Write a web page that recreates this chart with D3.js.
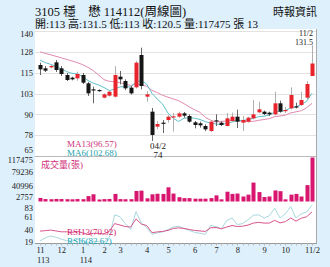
<!DOCTYPE html>
<html>
<head>
<meta charset="utf-8">
<script src="https://cdn.jsdelivr.net/npm/d3@7"></script>
<style>
html, body { margin: 0; padding: 0; background: #def0fb; }
svg { display: block; }
text { font-family: "Liberation Serif", "Noto Sans CJK TC", serif; }
</style>
</head>
<body>
<svg id="chart" width="330" height="267"></svg>
<script>
// weekly candles, 113/11 .. 114/11/2
const opens  = [119.6,117.6,118.2,121.2,117.6,113.6,112.0,111.6,113.6,108.6,105.0,104.6,100.0,101.2,100.6,112.6,110.0,106.0,106.2,125.6,100.6,91.6,82.6,85.0,86.6,88.4,88.6,90.6,89.0,85.2,84.6,83.0,80.0,86.4,85.0,83.0,86.0,88.6,85.0,85.6,87.6,91.2,91.6,91.0,90.0,96.6,92.4,93.6,94.8,95.6,100.0,113.0];
const closes = [117.0,116.2,119.0,116.6,114.2,110.6,111.0,114.2,109.0,102.6,104.6,104.0,102.0,103.6,113.6,111.0,105.6,102.6,121.0,107.0,102.0,77.6,84.2,84.6,88.6,88.8,90.6,89.2,85.6,83.6,83.4,81.0,85.6,86.1,83.6,87.6,88.6,85.6,86.6,88.0,90.0,93.0,90.2,90.0,96.6,91.6,92.6,101.6,94.6,98.6,108.2,120.5];
const highs  = [121.0,119.0,119.6,122.6,119.0,114.8,112.6,115.6,114.8,109.4,106.6,105.0,102.6,104.0,119.0,116.0,111.0,107.0,122.0,130.0,104.0,93.8,86.0,86.6,89.6,90.8,91.6,91.4,90.0,86.0,85.6,84.0,86.0,90.0,85.8,90.8,91.0,92.8,89.0,88.5,98.6,97.6,92.2,91.6,103.6,98.2,94.4,106.2,97.0,103.6,110.0,131.5];
const lows   = [113.6,115.4,117.6,115.4,113.0,110.0,110.4,110.2,108.2,101.0,96.6,103.6,99.6,100.6,100.0,108.0,104.5,101.8,105.5,105.0,97.6,74.0,81.0,78.8,85.0,79.6,88.0,88.0,85.0,81.6,82.0,80.0,79.4,83.0,83.0,82.8,85.6,81.8,80.0,85.0,87.0,90.6,89.6,89.0,89.4,91.0,90.8,93.0,93.6,95.0,99.0,113.0];

const ma6  = [122.5,121,120,118.8,117.3,115.6,114.6,114.3,112.6,110.3,108.7,107.6,106.1,104.3,105.1,106.5,106.6,106.4,109.6,110.1,108.2,102.6,99.1,96.1,90.7,87.6,85.7,87.7,87.9,87.7,86.9,85.6,84.7,84.2,83.9,84.6,85.4,86.2,86.4,86.7,87.7,88.6,88.9,89.6,91.3,91.9,92.3,93.8,94.5,95.9,97.9,102.68];
const ma13 = [127.5,126.6,125.7,124.8,123.9,123,122,121,119.8,118.2,116.2,113.6,110.8,109.8,109.6,109.0,108.2,107.3,108.1,107.8,106.8,104.4,103.0,101.4,100.3,99.2,98.2,96.4,94.4,92.7,91.2,88.2,86.5,85.3,85.8,86.0,86.3,86.1,85.9,85.7,85.8,86.4,86.9,87.4,88.6,89.0,89.5,90.9,91.5,92.2,94.0,96.57];

const volumes = [7000,4000,3500,4200,4000,3600,3300,4000,3600,12000,17000,2757,3800,4200,18000,3800,3500,3600,26000,27000,6000,17000,18500,18000,36000,19000,9000,6500,6500,5000,5000,5000,6500,14000,3200,24000,18000,19000,11000,16000,49000,23000,9500,11000,27500,25500,3200,16000,18000,11000,42000,117475];

const rsi6  = [20,25.5,28.6,26.4,23,20.4,19.5,23,18.7,16,19.5,18.7,17.8,26.4,65.8,62.4,50.4,40.1,71.5,51.6,43.5,31.5,34.1,35.8,40.1,44.4,45.8,41.8,38.4,35,33.3,31.5,47,45.3,41.3,55.6,60.2,48.7,50.4,57.3,65,65.8,60.2,64.1,77.3,60.2,67.6,80.1,60.2,67.6,71,82.62];
const rsi13 = [37.2,38,39,37.5,36,36,35,36.7,34.1,31.5,33.3,33.3,32.4,36.7,50.4,47.8,45.3,44.4,58.5,49.6,47,34.5,35.8,36.7,38.4,41.8,43,41.8,40.1,38.4,37.5,36.7,43,43.5,41.3,44.4,47,45.3,45.8,47.8,51.3,52.6,51.3,51.3,56.1,51.6,53.8,60.2,54.7,59.8,62.4,70.92];

const priceTicks  = [65, 77.5, 90, 102.5, 115, 127.5, 140];
const priceLabels = ["65", "78", "90", "103", "115", "128", "140"];
const volTicks    = [2757, 40996, 79236, 117475];
const rsiTicks    = [19, 40.33, 61.67, 83];
const rsiLabels   = ["19", "40", "61", "83"];
const monthIdx    = [0, 4, 8, 12, 15, 20, 24, 29, 33, 37, 42, 46, 51];
const monthLabels = ["11", "12", "1", "2", "3", "4", "5", "6", "7", "8", "9", "10", "11/2"];
const yearIdx     = [0, 8];
const yearLabels  = ["113", "114"];

const svg = d3.select("#chart");
const left = 35, right = 316.5;

const x  = d3.scaleLinear().domain([0, closes.length - 1]).range([40, 312]);
const yP = d3.scaleLinear().domain([65, 140]).range([156, 31]);
const yV = d3.scaleLinear().domain([2757, 117475]).range([199.5, 157.5]);
const yR = d3.scaleLinear().domain([19, 83]).range([241.5, 205]);

// panels
svg.append("rect").attr("x", left).attr("y", 29).attr("width", right - left).attr("height", 215).attr("fill", "#fff");

// price grid
svg.append("g").selectAll("line").data(priceTicks).join("line")
    .attr("x1", left).attr("x2", right)
    .attr("y1", d => Math.round(yP(d)) + 0.5).attr("y2", d => Math.round(yP(d)) + 0.5)
    .attr("stroke", d => d === 65 ? "#b8b8b8" : "#e2e2e2");

svg.append("line").attr("x1", right).attr("x2", right).attr("y1", 29).attr("y2", 244)
    .attr("stroke", "#aaa");

// axes labels
function styleAxis(g) {
    g.select(".domain").remove();
    g.selectAll("text").attr("font-size", 8.5).attr("fill", "#222")
        .attr("font-family", "Liberation Serif");
}
const pAxis = svg.append("g").attr("transform", `translate(${left},0)`)
    .call(d3.axisLeft(yP).tickValues(priceTicks).tickFormat((d, i) => priceLabels[i]).tickSize(0).tickPadding(2))
    .call(styleAxis);
pAxis.selectAll(".tick").filter(d => d === 140).select("text").attr("dy", "0.6em");
pAxis.selectAll(".tick").filter(d => d === 65).select("text").attr("dy", "-0.45em");

const vAxis = svg.append("g").attr("transform", `translate(${left},0)`)
    .call(d3.axisLeft(yV).tickValues(volTicks).tickFormat(d3.format("d")).tickSize(0).tickPadding(2))
    .call(styleAxis);
vAxis.selectAll(".tick").filter(d => d === 2757).select("text").attr("dy", "0.05em");
vAxis.selectAll(".tick").filter(d => d === 117475).select("text").attr("dy", "0.55em");

const rAxis = svg.append("g").attr("transform", `translate(${left},0)`)
    .call(d3.axisLeft(yR).tickValues(rsiTicks).tickFormat((d, i) => rsiLabels[i]).tickSize(0).tickPadding(2))
    .call(styleAxis);
rAxis.selectAll(".tick").filter(d => d === 83).select("text").attr("dy", "0.65em");

// x axis
const xAxis = svg.append("g").attr("transform", "translate(0,243.5)")
    .call(d3.axisBottom(x).tickValues(monthIdx).tickFormat((d, i) => monthLabels[i]).tickSize(0).tickPadding(3));
xAxis.select(".domain").attr("stroke", "#999").attr("d", `M${left},0H${right}`);
xAxis.selectAll("text").attr("font-size", 8.5).attr("fill", "#222");
svg.append("g").selectAll("line").data(closes).join("line")
    .attr("x1", (d, i) => Math.round(x(i)) + 0.5).attr("x2", (d, i) => Math.round(x(i)) + 0.5)
    .attr("y1", 243.5).attr("y2", 245.5).attr("stroke", "#bbb");
svg.append("g").selectAll("text").data(yearIdx).join("text")
    .attr("x", d => x(d) - 3).attr("y", 263)
    .attr("font-size", 8.5).attr("fill", "#222")
    .text((d, i) => yearLabels[i]);

// moving averages
const maLine = d3.line().x((d, i) => x(i)).y(d => yP(d));
svg.append("path").datum(ma13).attr("d", maLine).attr("fill", "none").attr("stroke", "#e08ab0").attr("stroke-width", 1);
svg.append("path").datum(ma6).attr("d", maLine).attr("fill", "none").attr("stroke", "#5fbfca").attr("stroke-width", 1);

// candles
const up = closes.map((c, i) => c >= opens[i]);
const candles = svg.append("g").selectAll("g").data(closes).join("g");
candles.append("line")
    .attr("x1", (d, i) => Math.round(x(i)) + 0.5).attr("x2", (d, i) => Math.round(x(i)) + 0.5)
    .attr("y1", (d, i) => yP(highs[i])).attr("y2", (d, i) => yP(lows[i]))
    .attr("stroke", (d, i) => up[i] ? "#b0b0b0" : "#666");
candles.append("rect")
    .attr("x", (d, i) => Math.round(x(i)) - 1.5).attr("width", 4)
    .attr("y", (d, i) => yP(Math.max(opens[i], closes[i])))
    .attr("height", (d, i) => Math.max(1.2, Math.abs(yP(opens[i]) - yP(closes[i]))))
    .attr("fill", (d, i) => up[i] ? "#e8232b" : "#151515");

// volume
svg.append("g").selectAll("rect").data(volumes).join("rect")
    .attr("x", (d, i) => Math.round(x(i)) - 1.5).attr("width", 4)
    .attr("y", d => yV(d)).attr("height", d => 201.5 - yV(d))
    .attr("fill", "#d8166f");

// rsi
const rsiLine = d3.line().x((d, i) => x(i)).y(d => yR(d));
svg.append("path").datum(rsi6).attr("d", rsiLine).attr("fill", "none").attr("stroke", "#a8d8de").attr("stroke-width", 1);
svg.append("path").datum(rsi13).attr("d", rsiLine).attr("fill", "none").attr("stroke", "#d9558d").attr("stroke-width", 1);

// texts
function label(t, px, py, size, color, anchor) {
    svg.append("text").attr("x", px).attr("y", py).attr("font-size", size)
        .attr("fill", color).attr("text-anchor", anchor || "start").text(t);
}
label("3105 穩　懋 114112(周線圖)", 35, 16, 12.5, "#111");
label("開:113 高:131.5 低:113 收:120.5 量:117475 張 13", 35, 27.5, 11, "#111");
label("時報資訊", 317, 16, 11, "#111", "end");
label("11/2", 313, 35.5, 8, "#222", "end");
label("131.5", 313, 44.5, 8, "#222", "end");
label("04/2", x(21) + 6, 149, 9, "#222", "middle");
label("74", x(21) + 6, 157.5, 9, "#222", "middle");
label("MA13(96.57)", 67, 147, 9, "#d0307a");
label("MA6(102.68)", 67, 155.5, 9, "#1f9fae");
label("成交量(張)", 41, 168, 9, "#d0307a");
label("RSI13(70.92)", 67, 234.5, 9, "#d6246f");
label("RSI6(82.62)", 67, 243.5, 9, "#22a7b8");
</script>
</body>
</html>
